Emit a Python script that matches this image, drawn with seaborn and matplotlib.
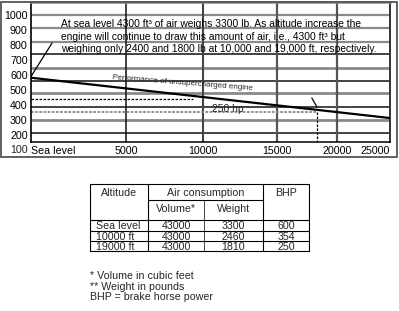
import numpy as np
import matplotlib
matplotlib.use("Agg")
import matplotlib.pyplot as plt
import seaborn as sns
from matplotlib.patches import Rectangle

# --- chart data -------------------------------------------------------------
ALT_TICKS = [0, 5000, 10000, 15000, 20000, 25000]
ALT_LABELS = ["Sea level", "5000", "10000", "15000", "20000", "25000"]
BHP_TICKS = [1000, 900, 800, 700, 600, 500, 400, 300, 200]
BHP_LOW_LABEL = 100

CURVE_ALT = [0, 25000]
CURVE_BHP = [582, 313]

DASH_ALT = [0, 9350]
DASH_BHP = [437, 437]

DOT_ALT = [0, 18330]
DOT_BHP = [353, 353]
DROP_ALT = [18330, 18330]
DROP_BHP = [353, 153]

MARK_ALT = [17900, 18330]
MARK_BHP = [447, 387]

LEADER_ALT = [0, 1120]
LEADER_BHP = [587, 813]

NOTE_LINES = [
    "At sea level 4300 ft³ of air weighs 3300 lb. As altitude increase the",
    "engine will continue to draw this amount of air, i.e., 4300 ft³ but",
    "weighing only 2400 and 1800 lb at 10,000 and 19,000 ft, respectively.",
]

# --- table data -------------------------------------------------------------
TABLE_ALT = ["Sea level", "10000 ft", "19000 ft"]
TABLE_VOL = [43000, 43000, 43000]
TABLE_WT = [3300, 2460, 1810]
TABLE_BHP = [600, 354, 250]
FOOTNOTES = ["* Volume in cubic feet", "** Weight in pounds", "BHP = brake horse power"]

# the printed altitude axis is not evenly spaced
POS_BREAKS = [0, 95.3, 172.3, 246.3, 306.3, 359.3]
GRID_BHP = [1000, 913, 823, 740, 647, 560, 477, 387, 300, 213]
GRID_COLORS = ["#8a8a8a", "#8a8a8a", "#8a8a8a", "#222222", "#8a8a8a",
               "#111111", "#8a8a8a", "#111111", "#8a8a8a", "#111111"]
GRID_LW = [1.6, 1.6, 1.6, 1.2, 2.0, 1.1, 2.0, 1.1, 2.0, 1.1]

xb = np.array([-100000] + ALT_TICKS + [125000], float)
pb = np.array([-100000 * 95.3 / 5000] + POS_BREAKS + [359.3 + 100000 * 53 / 5000])


def fwd(a):
    return np.interp(np.asarray(a, float), xb, pb)


def inv(p):
    return np.interp(np.asarray(p, float), pb, xb)


sns.set_theme(style="white")
plt.rcParams["font.family"] = ["Liberation Sans", "DejaVu Sans"]

W, H = 399, 311
fig = plt.figure(figsize=(W / 100, H / 100), dpi=100)

ax = fig.add_axes([30.7 / W, 1 - 142 / H, 359.3 / W, 140 / H])
ax.set_xscale("function", functions=(fwd, inv))
ax.set_xlim(0, 25000)
ylo, yhi = 153.3, 1086.7
ax.set_ylim(ylo, yhi)

ax.hlines(GRID_BHP, 0, 25000, colors=GRID_COLORS, linewidths=GRID_LW, zorder=1)
ax.vlines(ALT_TICKS[1:5], ylo, yhi, colors=["#111111", "#444444", "#555555", "#555555"],
          linewidths=[1.1, 1.5, 1.6, 1.6], zorder=1)

sns.lineplot(x=CURVE_ALT, y=CURVE_BHP, color="black", linewidth=1.6, ax=ax, zorder=3)
ax.plot(DASH_ALT, DASH_BHP, color="black", lw=0.9, ls=(0, (2, 1.2)), zorder=2)
ax.plot(DOT_ALT, DOT_BHP, color="#888888", lw=1.3, ls=(0, (1.5, 0.8)), zorder=2)
ax.plot(DROP_ALT, DROP_BHP, color="black", lw=0.9, ls=(0, (2, 1.2)), zorder=2)
ax.plot(MARK_ALT, MARK_BHP, color="black", lw=0.9, zorder=3)
ax.plot(LEADER_ALT, LEADER_BHP, color="black", lw=0.9, zorder=3)

for i, line in enumerate(NOTE_LINES):
    ax.text(0.084, (142 - 24 - 12.7 * i) / 140, line, transform=ax.transAxes,
            fontsize=7.4, va="center", ha="left", color="black", zorder=4)

ax.text(0.226, 0.45, "Performance of unsupercharged engine", transform=ax.transAxes,
        fontsize=5.8, rotation=-4.5, rotation_mode="anchor", ha="left", va="baseline")
ax.text(0.505, 0.214, "250 hp", transform=ax.transAxes, fontsize=7.4,
        ha="left", va="baseline")

ax.set_xticks(ALT_TICKS)
ax.set_xticklabels(ALT_LABELS)
ax.set_yticks(BHP_TICKS)
ax.set_yticklabels([str(v) for v in BHP_TICKS])
ax.tick_params(axis="both", length=0, labelsize=7.7, colors="black")
ax.tick_params(axis="x", pad=2.8)
ax.tick_params(axis="y", pad=2.2)
xl = ax.get_xticklabels()
xl[0].set_ha("left")
xl[0].set_x(250)
xl[-1].set_ha("right")
ax.text(-0.008, -0.057, str(BHP_LOW_LABEL), transform=ax.transAxes,
        fontsize=7.7, ha="right", va="center")

for side, col, lw in [("left", "black", 1.2), ("bottom", "black", 1.1),
                      ("right", "#333333", 1.4), ("top", "#888888", 1.8)]:
    ax.spines[side].set_visible(True)
    ax.spines[side].set_color(col)
    ax.spines[side].set_linewidth(lw)
ax.grid(False)

# overlay in pixel units for frame, table and footnotes
ov = fig.add_axes([0, 0, 1, 1])
ov.set_xlim(0, W)
ov.set_ylim(H, 0)
ov.axis("off")
ov.add_patch(Rectangle((1, 2), 396, 155, fill=False, edgecolor="#555555", lw=1.3))

cols = [90, 148, 204, 263, 309]
top, sub, head, bot = 184, 200, 220, 251
rows = [head, 231, 241, bot]
lk = dict(color="black", lw=0.8)
ov.plot([cols[0], cols[-1]], [top, top], **lk)
ov.plot([cols[1], cols[3]], [sub, sub], **lk)
for r in rows:
    ov.plot([cols[0], cols[-1]], [r, r], **lk)
for c in [cols[0], cols[1], cols[3], cols[4]]:
    ov.plot([c, c], [top, bot], **lk)
ov.plot([cols[2], cols[2]], [sub, bot], color="black", lw=0.5)

fs = 7.7
ov.text((cols[0] + cols[1]) / 2, 193, "Altitude", fontsize=fs, ha="center", va="center")
ov.text((cols[1] + cols[3]) / 2, 193, "Air consumption", fontsize=fs, ha="center", va="center")
ov.text((cols[3] + cols[4]) / 2, 193, "BHP", fontsize=fs, ha="center", va="center")
ov.text((cols[1] + cols[2]) / 2, 209.5, "Volume*", fontsize=fs, ha="center", va="center")
ov.text((cols[2] + cols[3]) / 2, 209.5, "Weight", fontsize=fs, ha="center", va="center")
for i in range(len(TABLE_ALT)):
    yc = (rows[i] + rows[i + 1]) / 2 + 0.5
    ov.text(96, yc, TABLE_ALT[i], fontsize=fs, ha="left", va="center")
    ov.text((cols[1] + cols[2]) / 2, yc, str(TABLE_VOL[i]), fontsize=fs, ha="center", va="center")
    ov.text((cols[2] + cols[3]) / 2, yc, str(TABLE_WT[i]), fontsize=fs, ha="center", va="center")
    ov.text((cols[3] + cols[4]) / 2, yc, str(TABLE_BHP[i]), fontsize=fs, ha="center", va="center")

for i, note in enumerate(FOOTNOTES):
    ov.text(90, 276 + 10.7 * i, note, fontsize=fs, ha="left", va="center")

fig.savefig("out.png", dpi=100)
